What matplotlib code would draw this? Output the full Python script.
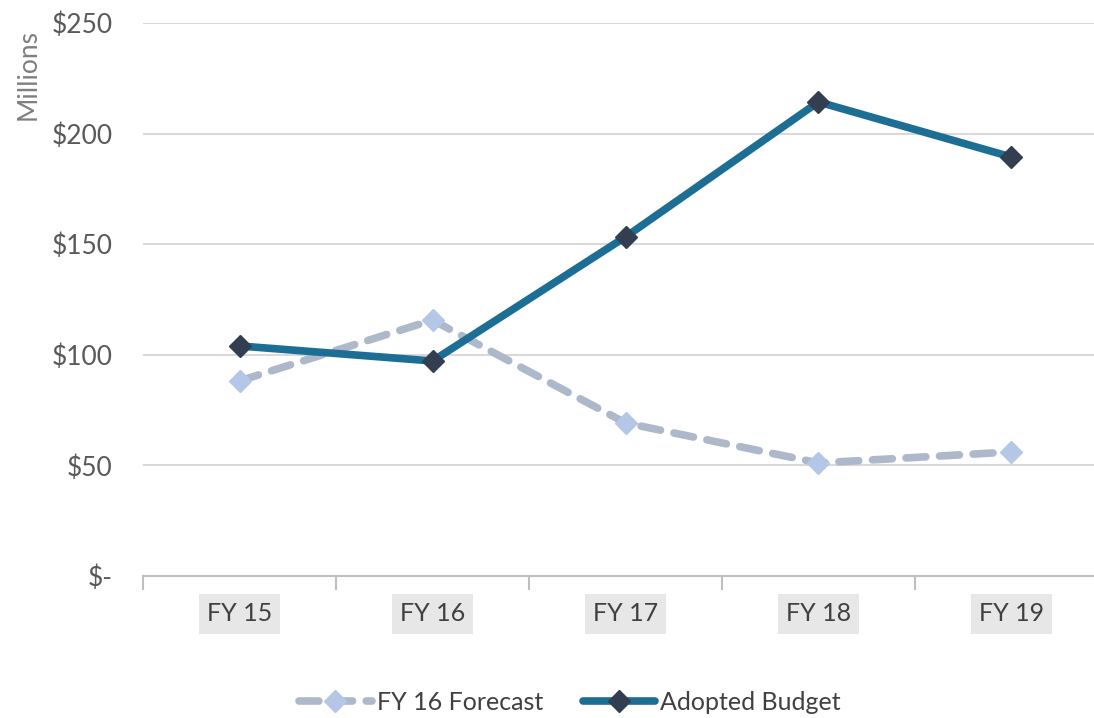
import numpy as np
import matplotlib.pyplot as plt
from matplotlib.ticker import FixedLocator

plt.rcParams['font.family'] = ['Lato', 'DejaVu Sans']

anos = ['FY 15', 'FY 16', 'FY 17', 'FY 18', 'FY 19']
previsao = [88.2, 115.7, 69.2, 51.1, 56.1]
orcamento = [104.0, 97.2, 153.3, 214.3, 189.4]
ticks_y = [0, 50, 100, 150, 200, 250]
rotulos_y = ['$-', '$50', '$100', '$150', '$200', '$250']

fig = plt.figure(figsize=(10.94, 7.18), dpi=100)
ax = fig.add_axes([143 / 1094, 1 - 576 / 718, 965 / 1094, 553 / 718])

x = np.arange(len(anos))

# linhas de grade
for v in ticks_y[1:]:
    ax.axhline(v, color='#d9d9d9', linewidth=1.5, zorder=0)

ax.plot(x, previsao, color='#adb9ca', linewidth=5.5, linestyle=(0, (2.6, 1.8)),
        dash_capstyle='round', marker='D', markersize=11,
        markerfacecolor='#b4c7e7', markeredgecolor='#b4c7e7',
        label='FY 16 Forecast', zorder=3)
ax.plot(x, orcamento, color='#1c6e94', linewidth=5.5, solid_capstyle='round',
        marker='D', markersize=11, markerfacecolor='#333f50',
        markeredgecolor='#333f50', label='Adopted Budget', zorder=4)

ax.set_xlim(-0.5, 4.5)
ax.set_ylim(0, 250)
ax.set_yticks(ticks_y)
ax.set_yticklabels(rotulos_y)
ax.set_xticks(x)
ax.set_xticklabels(anos)
ax.xaxis.set_minor_locator(FixedLocator(np.arange(-0.5, 5, 1)))

for s in ['top', 'right', 'left']:
    ax.spines[s].set_visible(False)
ax.spines['bottom'].set_color('#bfbfbf')
ax.spines['bottom'].set_linewidth(1.5)

ax.tick_params(axis='y', length=0, labelsize=19, labelcolor='#595959', pad=22)
ax.tick_params(axis='x', which='major', length=0, labelsize=18,
               labelcolor='#404040', pad=19)
ax.tick_params(axis='x', which='minor', length=10, width=1.5, color='#bfbfbf')

for t in ax.get_xticklabels():
    t.set_bbox(dict(facecolor='#e7e7e7', edgecolor='none', pad=6))

fig.text(28 / 1094, 1 - 74 / 718, 'Millions', rotation=90, ha='center', va='center',
         fontsize=19, color='#7f7f7f')

fig.legend(loc='center', bbox_to_anchor=(570 / 1094, 1 - 702 / 718), ncol=2,
           frameon=False, fontsize=18, labelcolor='#404040', handlelength=2.9,
           handletextpad=0.2, columnspacing=1.6)

fig.savefig('out.png', dpi=100)
